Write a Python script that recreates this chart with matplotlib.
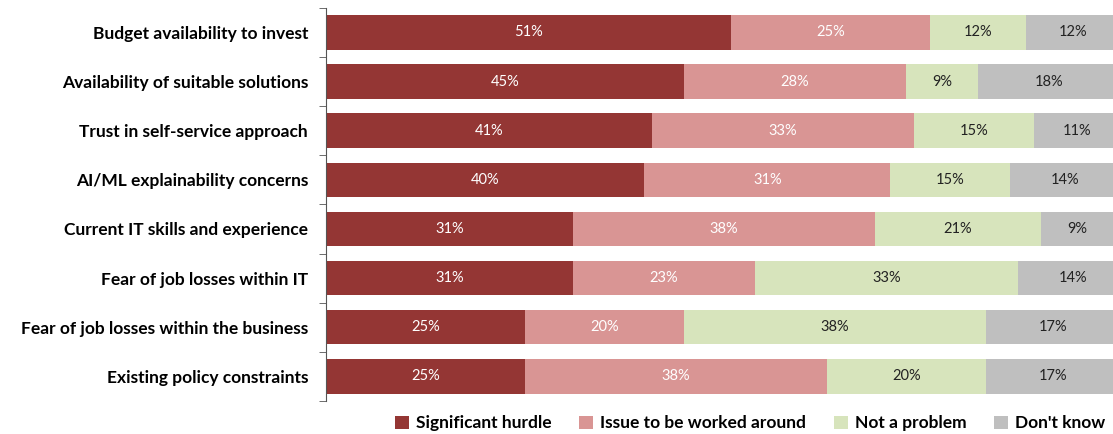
import matplotlib
matplotlib.use("Agg")
import matplotlib.pyplot as plt
import numpy as np

plt.rcParams['font.family'] = ['Lato', 'DejaVu Sans']

categories = ["Budget availability to invest",
              "Availability of suitable solutions",
              "Trust in self-service approach",
              "AI/ML explainability concerns",
              "Current IT skills and experience",
              "Fear of job losses within IT",
              "Fear of job losses within the business",
              "Existing policy constraints"]
significant = [51, 45, 41, 40, 31, 31, 25, 25]
worked_around = [25, 28, 33, 31, 38, 23, 20, 38]
not_problem = [12, 9, 15, 15, 21, 33, 38, 20]
dont_know = [12, 18, 11, 14, 9, 14, 17, 17]

series = [("Significant hurdle", significant, "#943634", "white"),
          ("Issue to be worked around", worked_around, "#D99594", "white"),
          ("Not a problem", not_problem, "#D7E4BC", "#222222"),
          ("Don't know", dont_know, "#BFBFBF", "#222222")]

fig = plt.figure(figsize=(11.13, 4.34), dpi=100)
ax = fig.add_axes([0.293, 0.076, 0.707, 0.906])

y = np.arange(len(categories))
left = np.zeros(len(categories))
for name, vals, color, tcolor in series:
    vals = np.array(vals, dtype=float)
    ax.barh(y, vals, left=left, height=0.7, color=color, label=name, edgecolor="none")
    for yi, l, v in zip(y, left, vals):
        ax.text(l + v / 2, yi, f"{int(v)}%", ha="center", va="center", color=tcolor, fontsize=10.5)
    left += vals

# chart runs slightly past the right edge of the image
ax.set_xlim(0, 99)
ax.set_ylim(len(categories) - 0.5, -0.5)
ax.set_yticks(y)
ax.set_yticklabels(categories, fontsize=12.5, fontweight="bold")
ax.set_yticks(np.arange(-0.5, len(categories)), minor=True)
ax.tick_params(axis="y", which="major", length=0, pad=13)
ax.tick_params(axis="y", which="minor", length=5, color="#555555")
ax.set_xticks([])
for s in ["top", "right", "bottom"]:
    ax.spines[s].set_visible(False)
ax.spines["left"].set_color("#555555")

leg = fig.legend(loc="lower center", bbox_to_anchor=(0.674, -0.03), ncol=4, frameon=False,
                 prop={"weight": "bold", "size": 12.5}, handlelength=0.8, handleheight=0.8,
                 handletextpad=0.4, columnspacing=1.6)

fig.savefig("out.png", dpi=100)
